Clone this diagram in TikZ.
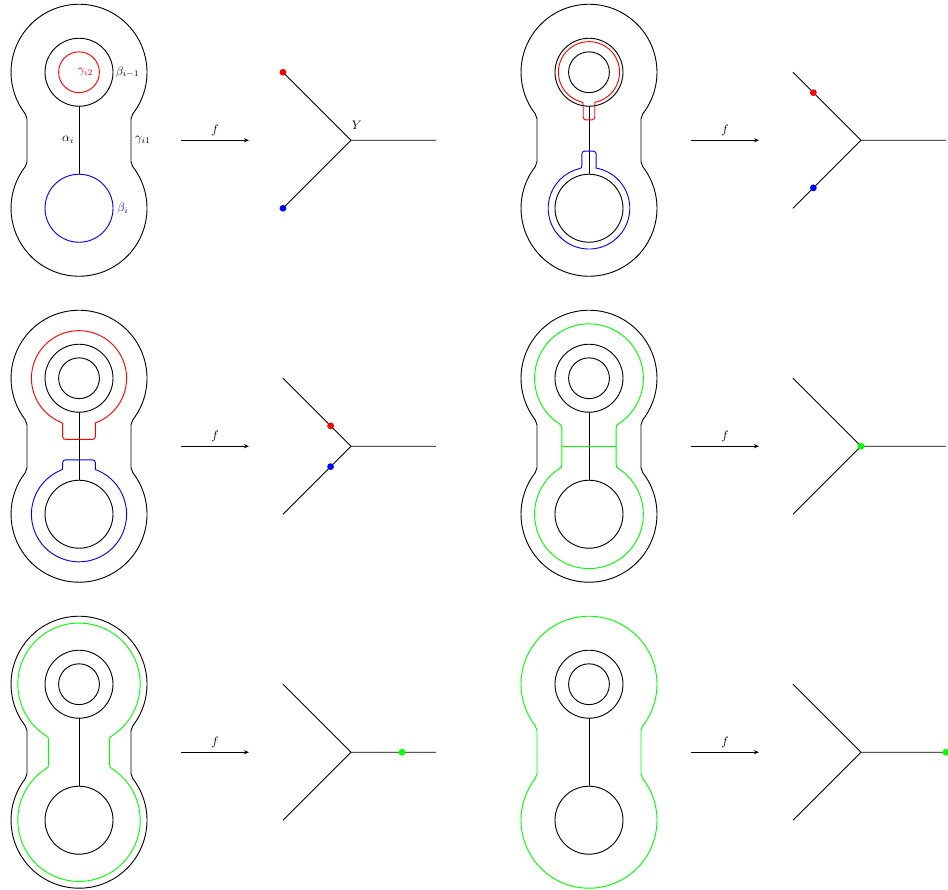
\documentclass[tikz,border=0pt]{standalone}
\usepackage{amsmath}
\usepackage{tikz}
\usetikzlibrary{arrows.meta,calc}

\newcommand{\lobecalc}[2]{%
  \pgfmathsetmacro\lobeang{acos(#2/#1)}
  \pgfmathsetmacro\lobey{2-#1*sin(\lobeang)}
  \pgfmathsetmacro\lobes{-\lobeang+4.6/#1}
  \pgfmathsetmacro\lobee{180+\lobeang-4.6/#1}
  \pgfmathsetmacro\lobex{#1*cos(\lobes)}
  \pgfmathsetmacro\lobez{2+#1*sin(\lobes)}
}
% open half: radius, half width of the neck, colour
\newcommand{\halfbell}[3]{%
  \lobecalc{#1}{#2}
  \foreach \s in {1,-1}
  {
    \begin{scope}[yscale=\s]
      \draw[#3] (#2,0) -- (#2,\lobey-.08) .. controls (#2,\lobey) .. (\lobex,\lobez)
        arc[start angle=\lobes,end angle=\lobee,radius=#1]
        .. controls (-#2,\lobey) .. (-#2,\lobey-.08) -- (-#2,0);
    \end{scope}
  }
}
% closed lobe with a tab: radius, half width of the tab, tab end, sign, colour
\newcommand{\tablobe}[5]{%
  \lobecalc{#1}{#2}
  \begin{scope}[yscale=#4]
    \draw[#5] (0,#3) [rounded corners=1.5pt] -- (#2,#3) -- (#2,\lobey-.08) [sharp corners]
      .. controls (#2,\lobey) .. (\lobex,\lobez)
      arc[start angle=\lobes,end angle=\lobee,radius=#1]
      .. controls (-#2,\lobey) .. (-#2,\lobey-.08) [rounded corners=1.5pt] -- (-#2,#3) -- (0,#3);
  \end{scope}
}
\newcommand{\edgedot}[3]{\fill[#3] (8+#1,#2) circle (.1);}

\begin{document}
\begin{tikzpicture}[x=.65cm,y=.65cm,line width=.5pt,every node/.style={scale=.67}]
    \useasboundingbox (-2.324,4.125) rectangle (25.56,-22.048);
    \foreach \px/\py/\cl/\cin/\cbot in {0/0/black/red/blue,15/0/black/black/black,0/-9/black/black/black,15/-9/black/black/black,0/-18/black/black/black,15/-18/green/black/black}
    {
      \begin{scope}[shift={(\px,\py)}]
        \halfbell{2}{1.53}{\cl}
        \draw (0,2) circle (1);
        \draw[\cin] (0,2) circle (.6);
        \draw[\cbot] (0,-2) circle (1);
        \coordinate (stemtop) at (0,1);
        \coordinate (stembot) at (0,-1);
        \draw (stemtop) -- (stembot);
        \coordinate (arrowa) at (3,0);
        \coordinate (arrowb) at (5,0);
        \draw[-{Stealth[length=2.7pt,width=2.2pt]}] (arrowa) -- node[above] {$f$} (arrowb);
        \coordinate (Ymid) at (8,0);
        \coordinate (Yup) at (6,2);
        \coordinate (Ydown) at (6,-2);
        \coordinate (Yright) at (10.5,0);
        \draw (Yup) -- (Ymid) -- (Yright);
        \draw (Ydown) -- (Ymid);
      \end{scope}
    }
    % labels of the first panel
    \node[red] (gammatwo) at (.19,2) {$\gamma_{i2}$};
    \node (betaprev) at (1.43,2) {$\beta_{i-1}$};
    \node (alpha) at (-.32,0) {$\alpha_i$};
    \node (gammaone) at (1.88,0) {$\gamma_{i1}$};
    \node[blue] (betai) at (1.29,-2) {$\beta_i$};
    \node (Ylabel) at (8.17,.43) {$Y$};
    \edgedot{-2}{2}{red}
    \edgedot{-2}{-2}{blue}
    % second panel
    \begin{scope}[shift={(15,0)}]
      \tablobe{.9}{.17}{.6}{1}{red}
      \tablobe{1.2}{.21}{.32}{-1}{blue}
      \edgedot{-1.4}{1.4}{red}
      \edgedot{-1.4}{-1.4}{blue}
    \end{scope}
    % third panel
    \begin{scope}[shift={(0,-9)}]
      \tablobe{1.4}{.48}{.2}{1}{red}
      \tablobe{1.4}{.48}{.4}{-1}{blue}
      \edgedot{-.6}{.6}{red}
      \edgedot{-.6}{-.6}{blue}
    \end{scope}
    % fourth panel
    \begin{scope}[shift={(15,-9)}]
      \halfbell{1.6}{.8}{green}
      \coordinate (crossl) at (-.8,0);
      \coordinate (crossr) at (.8,0);
      \draw[green] (crossl) -- (crossr);
      \edgedot{0}{0}{green}
    \end{scope}
    % fifth panel
    \begin{scope}[shift={(0,-18)}]
      \halfbell{1.8}{.9}{green}
      \edgedot{1.5}{0}{green}
    \end{scope}
    % sixth panel
    \begin{scope}[shift={(15,-18)}]
      \edgedot{2.5}{0}{green}
    \end{scope}
  \end{tikzpicture}
\end{document}
